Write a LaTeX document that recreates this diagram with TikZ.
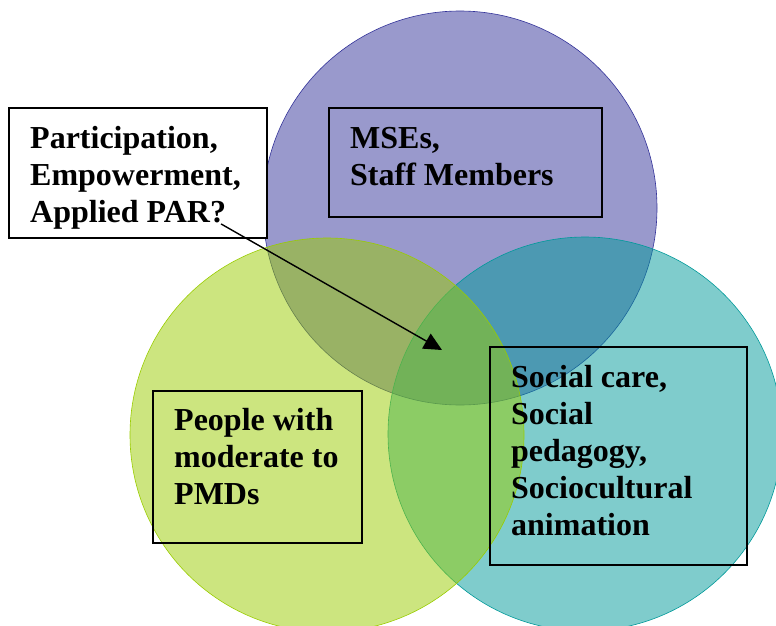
\documentclass[tikz,border=0pt]{standalone}
\usepackage{fontspec}
\setmainfont{Liberation Serif}
\usetikzlibrary{arrows.meta}

\definecolor{msepurple}{RGB}{51,51,153}
\definecolor{pmdgreen}{RGB}{153,204,0}
\definecolor{careteal}{RGB}{0,153,153}

\begin{document}
\begin{tikzpicture}[x=1pt, y=-1pt,
        circ/.style={circle, draw=#1, fill=#1, fill opacity=0.5, line width=0.6pt, minimum size=394pt, inner sep=0pt},
        venntext/.style={anchor=north west, inner sep=0pt, align=left, font=\fontsize{32}{37}\selectfont\bfseries},
        tagbox/.style={draw, line width=1.3pt},
        arrow/.style={-{Triangle[length=18pt, width=17pt]}, line width=1.4pt}
    ]
        \useasboundingbox (0,0) rectangle (776,626);

        \node[circ=msepurple] (staff) at (460,208) {};
        \node[circ=careteal] (care) at (585,434) {};
        \node[circ=pmdgreen] (people) at (327,435) {};

        \draw[tagbox, fill=white] (9,108) rectangle (267,238);
        \node[venntext] (par) at (30,126.5) {Participation,\\Empowerment,\\Applied PAR?};

        \draw[tagbox] (329,108) rectangle (602,217);
        \node[venntext] (mse) at (350,126.8) {MSEs,\\Staff Members};

        \draw[tagbox] (153,391) rectangle (362,543);
        \node[venntext] (pmd) at (174,408.5) {People with\\moderate to\\PMDs};

        \draw[tagbox] (490,347) rectangle (747,565);
        \node[venntext] (soc) at (511,365.5) {Social care,\\Social\\pedagogy,\\Sociocultural\\animation};

        \coordinate (core) at (442,350);
        \draw[arrow] ([xshift=-20pt, yshift=6pt]par.south east) -- (core);
%        \draw[arrow] (par.east) -- (core);
    \end{tikzpicture}
\end{document}
